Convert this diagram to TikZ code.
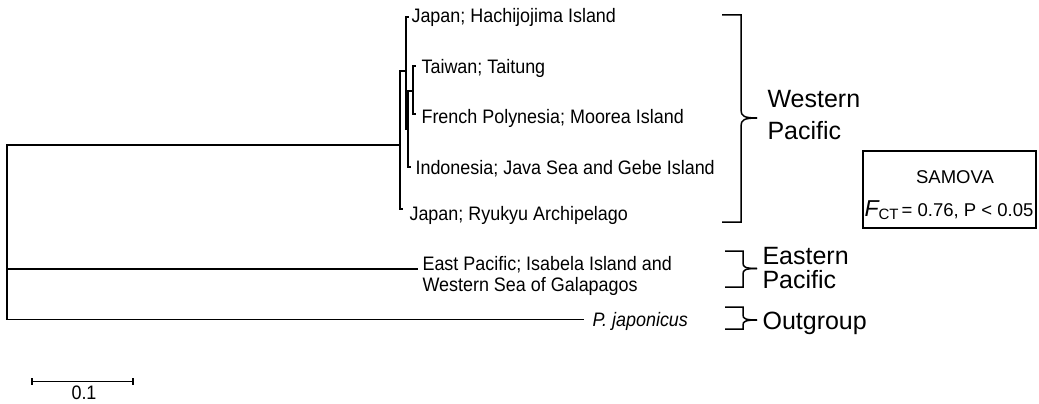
\documentclass[tikz,border=0pt]{standalone}
\usepackage{fontspec}
\setmainfont{Liberation Sans}
\newfontfamily\narrowfont{Liberation Sans}[FakeStretch=0.92]
\begin{document}
\begin{tikzpicture}[x=1pt,y=-1pt,line width=1.1pt,line cap=rect,
  lab/.style={anchor=base west,inner sep=0pt,font=\narrowfont\fontsize{19.5}{23}\selectfont},
  big/.style={anchor=base west,inner sep=0pt,font=\fontsize{25}{30}\selectfont},
  br/.style={line width=1.5pt,line cap=butt,line join=miter}]
\useasboundingbox (0,0) rectangle (1039,404);
% ---- tree coordinates
\coordinate (r0) at (7,145);
\coordinate (r1) at (7,319.5);
\coordinate (rE) at (7,269);
\coordinate (nW) at (400,145);
\coordinate (nWt) at (400,71);
\coordinate (nWb) at (400,209);
\coordinate (nAl) at (400,71);
\coordinate (nA) at (406,71);
\coordinate (nAt) at (406,17);
\coordinate (nAb) at (406,129);
\coordinate (nB) at (408,129);
\coordinate (nBt) at (408,91);
\coordinate (nBb) at (408,167);
\coordinate (nC) at (413,91);
\coordinate (nCt) at (413,66);
\coordinate (nCb) at (413,114);
\coordinate (tH) at (408.5,17);
\coordinate (tT) at (415,66);
\coordinate (tF) at (415,114);
\coordinate (tI) at (410,167);
\coordinate (tR) at (402,209);
\coordinate (tE) at (417,269);
\coordinate (tO) at (583,319.5);
% ---- tree lines
\draw (r0) -- (r1);
\draw (r0) -- (nW);
\draw (nWt) -- (nWb);
\draw (nWb) -- (tR);
\draw (nAl) -- (nA);
\draw (nAt) -- (nAb);
\draw (nAt) -- (tH);
\draw (nAb) -- (nB);
\draw (nBt) -- (nBb);
\draw (nBb) -- (tI);
\draw (nBt) -- (nC);
\draw (nCt) -- (nCb);
\draw (nCt) -- (tT);
\draw (nCb) -- (tF);
\draw (rE) -- (tE);
\draw (r1) -- (tO);
% ---- leaf labels
\node[lab] (lH) at (411,22.7) {Japan; Hachijojima Island};
\node[lab] (lT) at (421,73.5) {Taiwan; Taitung};
\node[lab] (lF) at (421,123.5) {French Polynesia; Moorea Island};
\node[lab] (lI) at (415,174.5) {Indonesia; Java Sea and Gebe Island};
\node[lab] (lR) at (409,220.5) {Japan; Ryukyu Archipelago};
\node[lab] (lE1) at (422,270) {East Pacific; Isabela Island and};
\node[lab] (lE2) at (422,291) {Western Sea of Galapagos};
\node[lab,font=\narrowfont\fontsize{19.5}{23}\selectfont\itshape] (lO) at (592,326.7) {P. japonicus};
% ---- braces
\draw[br] (722,15) -- (741,15) -- (741,110) .. controls (741,116) and (744,118) .. (757,118);
\draw[br] (722,222) -- (741,222) -- (741,126) .. controls (741,120) and (744,118) .. (757,118);
\draw[br] (725,251) -- (743,251) -- (743,263) .. controls (743,267) and (745,268.5) .. (757,268.5);
\draw[br] (725,287) -- (743,287) -- (743,274) .. controls (743,270) and (745,268.5) .. (757,268.5);
\draw[br] (725,307) -- (743,307) -- (743,315) .. controls (743,318.5) and (745,320) .. (757,320);
\draw[br] (725,329) -- (743,329) -- (743,325) .. controls (743,321.5) and (745,320) .. (757,320);
% ---- group labels
\node[big] (gW1) at (767,107.7) {Western};
\node[big] (gW2) at (767,139.3) {Pacific};
\node[big] (gE1) at (762,264.3) {Eastern};
\node[big] (gE2) at (762,288.3) {Pacific};
\node[big] (gO) at (762,329) {Outgroup};
% ---- SAMOVA box
\node[draw,line width=1.3pt,minimum width=173pt,minimum height=77pt,inner sep=0pt] (box) at (949.5,189.5) {};
\node[anchor=base,inner sep=0pt,font=\fontsize{18.5}{22}\selectfont] (sam) at (955,183.3) {SAMOVA};
\node[anchor=base west,inner sep=0pt] (fct) at (864,216.7) {{\fontsize{23}{26}\selectfont\itshape F}\raisebox{-2.6pt}{\fontsize{15}{18}\selectfont CT}{\fontsize{18.5}{22}\selectfont\,= 0.76, P {\textless} 0.05}};
% ---- scale bar
\coordinate (s0) at (32,381.5);
\coordinate (s1) at (133,381.5);
\draw (s0) -- (s1);
\draw ([yshift=-3pt]s0) -- ([yshift=3pt]s0);
\draw ([yshift=-3pt]s1) -- ([yshift=3pt]s1);
\node[anchor=base,inner sep=0pt,font=\narrowfont\fontsize{19.5}{23}\selectfont] (sl) at (84,399.5) {0.1};
\end{tikzpicture}
\end{document}
